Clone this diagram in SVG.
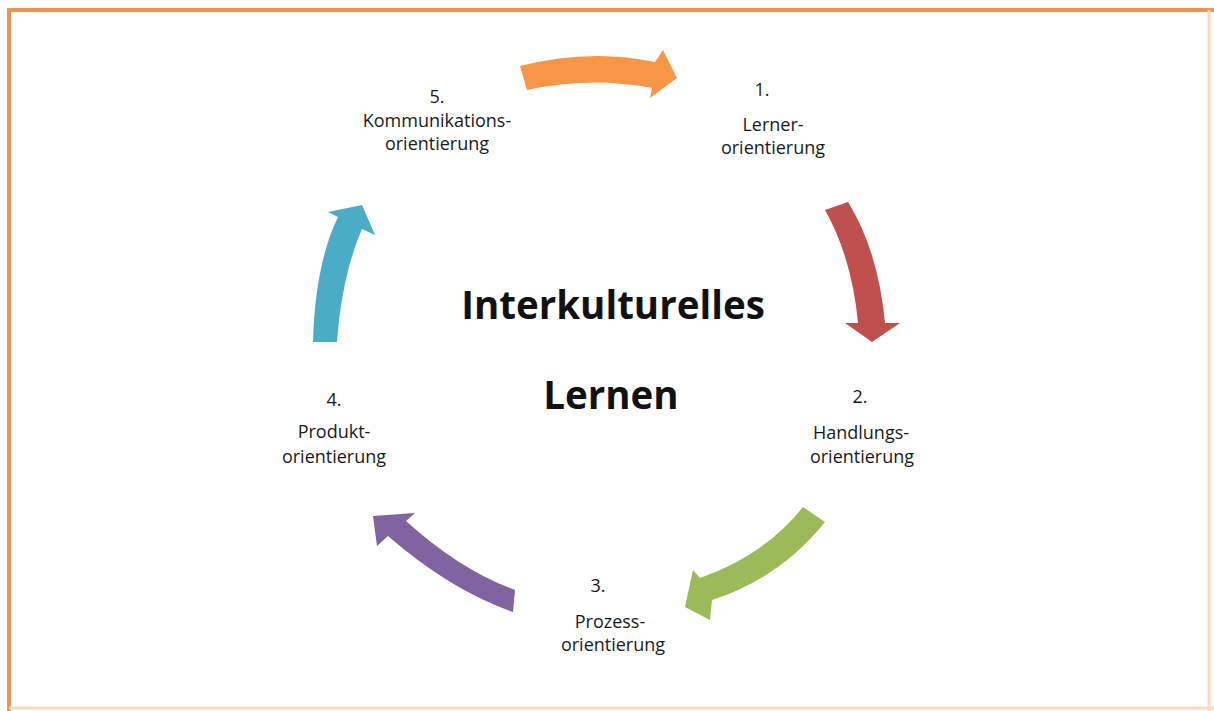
<svg xmlns="http://www.w3.org/2000/svg" width="1214" height="711" viewBox="0 0 1214 711">
<style>
.lbl{font-family:"Open Sans","Liberation Sans",sans-serif;font-size:18px;fill:#1a1a1a;text-anchor:middle}
.title{font-family:"Open Sans","Liberation Sans",sans-serif;font-size:38.5px;font-weight:bold;fill:#111;text-anchor:middle}
</style>
<rect x="0" y="0" width="1214" height="711" fill="#ffffff"/>
<g id="frame">
<line x1="9" y1="10" x2="1214" y2="10" stroke="#E8955A" stroke-width="4"/>
<line x1="9" y1="8" x2="9" y2="711" stroke="#E8955A" stroke-width="4"/>
<line x1="1209" y1="10" x2="1209" y2="711" stroke="#FAD9BD" stroke-width="3"/>
<line x1="9" y1="708" x2="1214" y2="708" stroke="#FAD9BD" stroke-width="3"/>
</g>
<g id="connectors">
<path id="arrow-5-1" fill="#F79646" d="M520,66 Q590,48 655,62 L663,50 L677,78 L650,98 L652,88 Q590,76 527,90 Z"/>
<path id="arrow-1-2" fill="#C0504D" d="M825,210 L848,202 Q878,250 885,323 L900,323 L872,342 L845,323 L858,323 Q852,258 825,210 Z"/>
<path id="arrow-2-3" fill="#9BBB59" d="M803,507 L825,522 Q780,578 712,600 L710,620 L685,607 L693,570 L700,578 Q765,555 803,507 Z"/>
<path id="arrow-3-4" fill="#8064A2" d="M515,590 L513,612 Q450,590 388,536 L377,546 L373,516 L415,513 L406,521 Q460,570 515,590 Z"/>
<path id="arrow-4-5" fill="#4BACC6" d="M313,342 Q315,265 338,217 L328,212 L362,205 L375,235 L362,229 Q342,275 337,342 Z"/>
</g>
<g id="center">
<text class="title" x="613" y="319">Interkulturelles</text>
<text class="title" x="611" y="409">Lernen</text>
</g>
<g id="node1">
<text class="lbl" x="762" y="96">1.</text>
<text class="lbl" x="773" y="131">Lerner-</text>
<text class="lbl" x="773" y="154">orientierung</text>
</g>
<g id="node2">
<text class="lbl" x="860" y="403">2.</text>
<text class="lbl" x="861" y="439">Handlungs-</text>
<text class="lbl" x="862" y="463">orientierung</text>
</g>
<g id="node3">
<text class="lbl" x="598" y="592">3.</text>
<text class="lbl" x="610" y="628">Prozess-</text>
<text class="lbl" x="613" y="651">orientierung</text>
</g>
<g id="node4">
<text class="lbl" x="334" y="406">4.</text>
<text class="lbl" x="334" y="438">Produkt-</text>
<text class="lbl" x="334" y="463">orientierung</text>
</g>
<g id="node5">
<text class="lbl" x="437" y="103">5.</text>
<text class="lbl" x="437" y="127">Kommunikations-</text>
<text class="lbl" x="437" y="150">orientierung</text>
</g>
</svg>
